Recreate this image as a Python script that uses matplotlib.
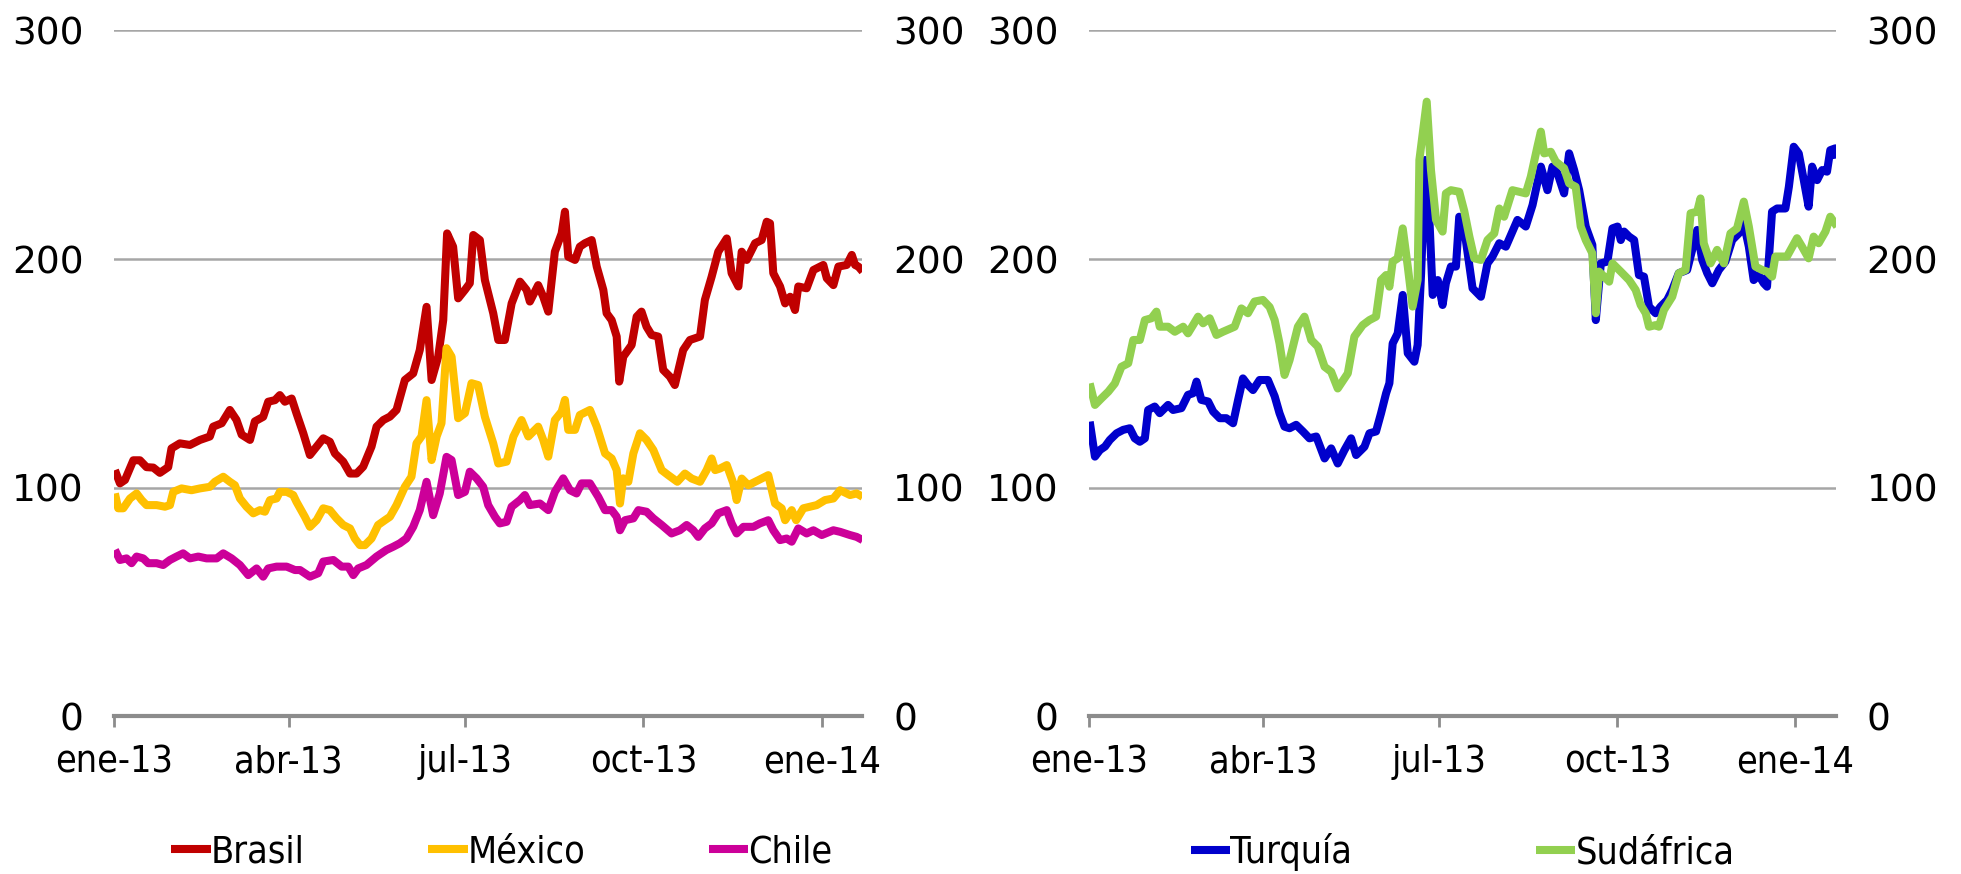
import matplotlib
matplotlib.use("Agg")
import matplotlib.pyplot as plt
import pandas as pd

# Day offsets from 1 Jan 2013 and index levels read for each series
START = pd.Timestamp("2013-01-01")

brasil_days = [0.3, 2.9, 5.5, 9.8, 13.2, 16.6, 20.1, 23.5, 27.8, 29.5, 33.8, 39, 44.2, 49.3, 51, 55.4, 59.6, 63, 65.7, 70,
               72.5, 76.8, 79.4, 82.9, 85.4, 88, 91.5, 94, 97.5, 100.9, 104.4, 107.8, 111.2, 113.8, 118.1, 121.6, 125, 128.4,
               132.7, 135.3, 138.8, 142.2, 145.6, 149.9, 154.2, 157.6, 161.1, 163.7, 167.1, 169.7, 171.7, 174.8, 177.4,
               180.9, 183.4, 185.2, 188.6, 191.2, 195.5, 198.1, 201.5, 205, 209.3, 212.7, 214.4, 218.7, 221.3, 223.9,
               227.3, 230.8, 232.5, 234.2, 237.7, 240.2, 242.8, 246.3, 248.9, 252.3, 254, 256.6, 259.2, 260.5, 262.6,
               266.9, 269.5, 272, 274.6, 277.2, 280.6, 283.2, 286.6, 289.2, 293.5, 297, 302.2, 304.7, 308.2, 311.6, 316,
               318.5, 322, 323.7, 326.3, 330.6, 334, 336.6, 338.3, 340, 343.5, 346.1, 348.7, 351.2, 352.9, 357.2, 360.7,
               365.8, 367.6, 371, 373.6, 377.9, 380.5, 382.2, 383.9, 386.1]
brasil_vals = [107.7, 101.9, 103.4, 112, 112, 109, 108.8, 106.5, 109, 117.2, 119.4, 118.7, 120.9, 122.4, 126.7, 128.2, 134,
               129.7, 123.2, 120.9, 129, 131, 137.6, 138.3, 140.5, 137.6, 139, 132.5, 123.8, 114.3, 118, 121.6, 120.1, 115,
               111.4, 106.2, 106.2, 109.2, 118, 126.7, 129.6, 131.1, 134, 147.1, 150, 160.2, 179.1, 147.1, 157.3, 173.3,
               211.2, 205.4, 182.8, 186.5, 189.4, 210.5, 208.3, 190.8, 176.3, 164.6, 164.6, 180.6, 190.1, 186.5, 181.4,
               188.6, 183.5, 177, 203.2, 211.2, 220.7, 201, 199.6, 205.4, 206.9, 208.3, 196.7, 186.5, 176.3, 173.3, 166.1,
               146.4, 157.3, 162.4, 174.8, 177, 170.4, 166.8, 166.1, 151.5, 148.6, 144.9, 160.2, 164.6, 166.1, 182.1,
               192.3, 203.2, 209, 193.8, 188, 203.2, 199.6, 206.9, 208.3, 216.3, 215.6, 193.8, 188, 180.6, 183.5, 177.7,
               188, 187.2, 195.2, 197.4, 191.6, 188.6, 196.7, 197.4, 201.8, 197.4, 196.7, 194.5]

mexico_days = [0.3, 2, 4.6, 8.1, 11.5, 14.1, 16.6, 21.8, 26.1, 28.7, 30.4, 34.7, 39.8, 44.2, 49.3, 51.9, 56.2, 59.6, 62.2,
               64.8, 68.2, 71.7, 75.1, 77.7, 80.3, 83.7, 85.4, 88.9, 92.3, 94, 98.3, 100.9, 104.4, 107.8, 111.2, 114.7,
               118.1, 121.6, 124.1, 126.7, 129.3, 132.7, 136.1, 139.6, 142.2, 145.6, 149.9, 153.3, 155.9, 158.5, 161.1,
               163.7, 166.3, 168.8, 171.4, 174, 177.4, 180.9, 184.3, 187.7, 191.2, 195.5, 198.1, 202.4, 205.9, 210.1,
               213.6, 218.7, 221.3, 223.9, 227.3, 230.8, 232.5, 234.2, 237.7, 240.2, 245.4, 248.9, 253.2, 256.6, 259.2,
               260.9, 262.6, 265.2, 267.8, 271.2, 274.6, 278.1, 282.4, 285.8, 290.5, 294.4, 297.9, 302.2, 305.6, 308.2,
               310, 312.5, 316, 319.4, 321.1, 323.7, 327.1, 332.3, 337.4, 340.9, 344.3, 346.1, 349.5, 351.8, 355.5, 362.4,
               366.7, 371, 374.5, 379.6, 383, 386.1]
mexico_vals = [97.5, 91, 91, 95.3, 97.5, 94.6, 92.4, 92.4, 91.7, 92.4, 98.2, 99.7, 98.9, 99.7, 100.4, 102.6, 104.8, 102.6,
               101.1, 95.3, 91.7, 88.8, 90.2, 89.5, 94.6, 95.3, 98.2, 98.2, 96.8, 93.8, 87.3, 82.9, 85.8, 91, 90.2, 86.6,
               83.7, 82.2, 77.8, 74.9, 74.9, 77.8, 83.7, 85.8, 87.3, 92.4, 100.4, 104.8, 119.4, 122.4, 138.3, 112.1, 122.4,
               128.2, 161, 157.3, 130.4, 132.6, 145.7, 144.9, 131, 119.4, 110.6, 111.4, 122.4, 129.6, 122.4, 126.7, 120.9,
               113.6, 129.6, 133.3, 138.4, 125.3, 125.3, 131.8, 134, 126.7, 115, 112.8, 107.7, 93.1, 104.1, 102.6, 115,
               123.8, 120.9, 116.5, 107.7, 105.5, 102.6, 106.2, 104, 102.6, 107.7, 112.8, 107.7, 108.4, 109.9, 101.9, 94.6,
               104, 101.1, 103.3, 105.5, 93.1, 91, 85.8, 90.2, 85.8, 91, 92.4, 94.6, 95.3, 98.9, 96.8, 97.5, 96]

chile_days = [0.3, 2.9, 6.3, 8.9, 11.5, 14.9, 17.5, 21.8, 25.2, 28.7, 32.1, 35.5, 39, 43.3, 47.6, 52.8, 56.2, 60.5, 64.8,
              69.1, 73.4, 76.8, 79.4, 83.7, 88.9, 93.2, 95.8, 100.9, 105.2, 107.8, 113, 117.3, 120.7, 123.3, 125.8, 130.1,
              135.3, 140.4, 143.9, 147.3, 150.7, 154.2, 157.6, 161.1, 164.5, 167.9, 171.4, 174, 177.4, 180.9, 183.4, 186.9,
              190.3, 192.9, 196.4, 198.9, 202.4, 205, 209.3, 211.8, 214.4, 219.6, 223.9, 227.3, 231.6, 235.1, 238.5,
              241.1, 245.4, 249.7, 253.2, 256.6, 259.2, 260.9, 263.5, 267.8, 270.4, 274.6, 278.1, 282.4, 287.5, 291.8,
              295.3, 298.7, 301.3, 304.7, 308.2, 311.6, 316, 318.5, 321.1, 324.6, 329.7, 333.1, 337.4, 340, 343.5, 346.9,
              349.5, 352.9, 357.2, 360.7, 365, 371, 374.5, 379.6, 383, 386.1]
chile_vals = [72.8, 68.4, 69.1, 67, 69.9, 69.1, 67, 67, 66.2, 68.4, 69.9, 71.3, 69.1, 69.9, 69.1, 69.1, 71.3, 69.1, 66.2,
              61.8, 64.7, 61.1, 64.7, 65.5, 65.5, 64, 64, 61.1, 62.6, 67.7, 68.4, 65.5, 65.5, 61.8, 64.7, 66.2, 69.9, 72.8,
              74.2, 75.7, 77.8, 82.9, 90.2, 102.6, 88, 97.5, 113.5, 112.1, 96.8, 98.2, 107, 104.1, 100.4, 92.4, 87.3, 84.4,
              85.1, 91.7, 94.6, 96.8, 92.4, 93.1, 90.2, 98.2, 104.1, 98.9, 97.5, 101.9, 101.9, 96, 90.2, 90.2, 87.3, 81.4,
              85.8, 86.6, 90.2, 89.5, 86.6, 83.7, 80, 81.4, 83.7, 81.4, 78.5, 82.2, 84.4, 88.8, 90.2, 84.4, 80, 82.9, 82.9,
              84.4, 85.8, 81.4, 77.1, 77.8, 76.4, 82.2, 80, 81.4, 79.3, 81.4, 80.7, 79.3, 78.5, 77.1]

turquia_days = [0.2, 2.9, 5.5, 8.1, 10.6, 14.1, 17.5, 20.9, 23.5, 26.1, 28.7, 30.4, 33.8, 36.4, 40.7, 43.3, 47.6, 51, 53.6,
                55.4, 57.9, 61.4, 64, 67.4, 70.8, 74.3, 76.9, 79.4, 82, 84.6, 88, 92.3, 95.8, 98.3, 100.9, 103.5, 106.9,
                110.4, 113.8, 117.3, 121.6, 125, 128.4, 131.9, 135.3, 137.9, 142.2, 144.8, 148.2, 150.8, 153.4, 155.1,
                156.8, 159.4, 162, 164.6, 168, 169.7, 171.5, 173.7, 175.8, 177.5, 180.1, 182.6, 184.3, 186.9, 189.5, 191.2,
                194.6, 198.1, 202.4, 205.8, 208.4, 211.9, 215.3, 218.7, 221.3, 225.6, 229.1, 233.4, 236.8, 239.4, 242,
                245.4, 248, 250.6, 253.2, 256.6, 260, 261.8, 264.4, 267.8, 270.4, 273, 274.7, 276.4, 279, 281.6, 284.1,
                286.7, 289.3, 292.7, 295.3, 298.7, 301.3, 304.7, 309, 311.6, 314.2, 316.8, 319.4, 322, 325.4, 328.8, 332.3,
                335.7, 338.3, 340.9, 343.4, 346, 348.6, 350.3, 352.9, 355.5, 359.8, 361.6, 364.1, 366.7, 369.3, 371.8,
                373.6, 376.2, 378.8, 381.3, 383, 385.6, 386.5]
turquia_vals = [128.9, 113.6, 116.5, 118, 120.9, 123.8, 125.3, 126, 121.6, 120.1, 121.6, 134, 135.5, 132.6, 136.2, 134,
                134.8, 140.6, 141.3, 146.4, 138.4, 137.7, 133.3, 130.4, 130.4, 128.2, 138.4, 147.8, 144.9, 142.7, 147.1,
                147.1, 140, 132.6, 126.7, 126, 127.5, 124.6, 121.6, 122.4, 112.8, 117.2, 110.6, 116.5, 121.6, 114.3, 117.9,
                123.8, 124.6, 132.6, 141.3, 145.7, 163.1, 167.5, 184.3, 158.8, 155.1, 162.4, 193.8, 243.3, 217.1, 184.3,
                190.8, 179.9, 189.4, 196.7, 196.7, 218.5, 208.3, 187.2, 183.5, 198.1, 201.1, 206.9, 205.4, 212, 217.1,
                214.2, 223.6, 240.4, 230.1, 240.4, 237.5, 228.7, 246.2, 238.9, 230.1, 214.2, 206.2, 173.3, 198.1, 198.9,
                213.4, 214.2, 208.3, 212, 209.8, 208.3, 193, 192.3, 179.2, 176.3, 179.2, 182.1, 186.5, 193.8, 195.2, 204,
                212.7, 199.6, 193.8, 189.4, 195.2, 198.9, 208.3, 211.2, 215.6, 205.4, 190.8, 193, 189.4, 187.9, 220.7,
                222.1, 222.1, 231.6, 249.1, 246.2, 234.5, 222.9, 240.4, 234.5, 238.9, 238.2, 247.6, 248.4, 244]

sudafrica_days = [0.2, 2.9, 6.3, 9.8, 13.2, 16.6, 20.1, 22.7, 26.1, 28.7, 32.1, 34.7, 36.4, 40.7, 44.2, 48.5, 51, 53.6,
                  56.2, 58.8, 62.2, 65.7, 69.1, 75.1, 78.6, 82, 85.4, 89.7, 93.2, 95.8, 98.3, 100.9, 103.5, 107.8, 111.2,
                  114.7, 118.1, 121.6, 125, 128.4, 133.6, 137, 141.3, 144.8, 148.2, 150.8, 153.4, 155.1, 156.8, 159.4, 162,
                  164.6, 167.1, 169.7, 170.6, 174.4, 176.6, 179.2, 182.6, 184.3, 186.9, 191.2, 193.8, 196.4, 199, 202.4,
                  205.8, 209.3, 211.9, 214.4, 218.7, 222.2, 225.6, 228.2, 231.6, 233.4, 235.1, 238.5, 241.1, 245.4, 248,
                  251.4, 254, 256.6, 260, 261.8, 263.5, 266.1, 268.7, 270.4, 274.7, 279, 282.4, 285, 287.6, 289.3, 292.7,
                  294.4, 297, 301.3, 304.7, 308.2, 310.8, 314.2, 315.9, 317.6, 321.1, 324.5, 328, 331.4, 334.8, 338.3,
                  340.9, 344.3, 347.8, 350.3, 352.9, 354.6, 360.6, 365.8, 368.4, 371.8, 374.4, 377, 380.5, 383, 386.5]
sudafrica_vals = [145.6, 136.2, 139.1, 142, 145.6, 152.9, 154.4, 164.6, 164.6, 173.3, 174.1, 177, 170.4, 170.4, 168.2,
                  170.4, 167.5, 171.1, 174.8, 171.9, 174.1, 166.8, 168.2, 170.4, 178.4, 176.3, 181.4, 182.1, 179, 173.3,
                  163.1, 149.3, 155.8, 170.4, 174.8, 164.6, 161.7, 152.9, 150.7, 143.4, 150, 166.1, 171.1, 173.3, 174.8,
                  190.8, 193, 187.9, 198.9, 200.3, 213.4, 196.7, 179.2, 190.8, 243.3, 268.8, 238.9, 217.1, 212, 228.7,
                  230.1, 229.4, 221, 210, 200.3, 199.6, 208.3, 211.2, 222.1, 218.5, 230.1, 229.4, 228.7, 236, 249.1, 255.7,
                  246.2, 246.9, 242.6, 239.7, 233.1, 231.6, 214.2, 208.3, 202.5, 176.3, 194.5, 192.3, 190.1, 198.1, 194.5,
                  190.8, 186.5, 179.9, 176.3, 170.4, 171.1, 170.4, 177.7, 183.5, 193.8, 195.2, 220, 220.7, 226.5, 206.9,
                  198.1, 204, 198.1, 211.2, 213.4, 225.1, 214.2, 196.7, 195.2, 194.5, 192.3, 201.1, 201.1, 209.1, 205.4,
                  200.3, 209.8, 206.9, 212, 218.5, 214.2]

tick_dates = ["2013-01-01", "2013-04-01", "2013-07-01", "2013-10-01", "2014-01-01"]
tick_labels = ["ene-13", "abr-13", "jul-13", "oct-13", "ene-14"]
y_ticks = [0, 100, 200, 300]

left_series = [("Brasil", brasil_days, brasil_vals, "#C00000"),
               ("México", mexico_days, mexico_vals, "#FFC000"),
               ("Chile", chile_days, chile_vals, "#CC0099")]
right_series = [("Turquía", turquia_days, turquia_vals, "#0000CC"),
                ("Sudáfrica", sudafrica_days, sudafrica_vals, "#92D050")]

NARROW = dict(family="DejaVu Sans", stretch="condensed", size=27)
GRID = "#A6A6A6"


def to_dates(days):
    return START + pd.to_timedelta(days, unit="D")


def draw_panel(ax, series, legend_x, colspacing):
    for name, days, vals, color in series:
        ax.plot(to_dates(days), vals, color=color, lw=5.8, label=name,
                solid_joinstyle="round", solid_capstyle="butt")
    ax.set_xlim(START, START + pd.Timedelta(days=386))
    ax.set_ylim(0, 300)
    for v in y_ticks[1:]:
        ax.axhline(v, color=GRID, lw=1.8, zorder=0)
    for side in ("top", "left", "right"):
        ax.spines[side].set_visible(False)
    ax.spines["bottom"].set_color("#8C8C8C")
    ax.spines["bottom"].set_linewidth(3)
    ax.set_yticks(y_ticks)
    ax.set_yticklabels([str(v) for v in y_ticks], family="DejaVu Sans", fontsize=27)
    ax.tick_params(axis="y", length=0, labelleft=True, labelright=True, pad=22)
    ax.set_xticks(pd.to_datetime(tick_dates))
    ax.set_xticklabels(tick_labels, **NARROW)
    ax.tick_params(axis="x", direction="out", length=8, width=2, color="#8C8C8C", pad=12)
    leg = ax.legend(loc="center", bbox_to_anchor=(legend_x, -0.198), ncol=len(series), frameon=False,
                    handlelength=1.05, handletextpad=0.0, columnspacing=colspacing,
                    prop=NARROW)
    for h in leg.get_lines():
        h.set_linewidth(5.8)


fig = plt.figure(figsize=(19.61, 8.74), dpi=100)
ax1 = fig.add_axes([0.0583, 0.1803, 0.3815, 0.785])
ax2 = fig.add_axes([0.5555, 0.1803, 0.3808, 0.785])
draw_panel(ax1, left_series, 0.518, 3.3)
draw_panel(ax2, right_series, 0.5, 4.9)

fig.savefig("out.png", dpi=100, facecolor="white")
